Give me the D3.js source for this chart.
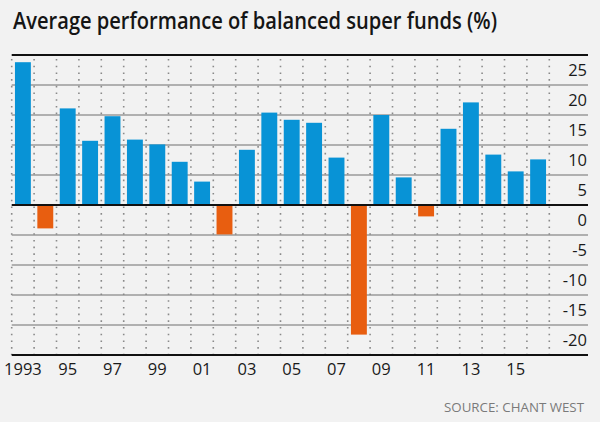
<!DOCTYPE html>
<html>
<head>
<meta charset="utf-8">
<script src="https://cdn.jsdelivr.net/npm/d3@7"></script>
<style>
  html, body { margin: 0; padding: 0; background: #f2f2f2; }
  svg { display: block; }
</style>
</head>
<body>
<svg id="chart" width="600" height="422"></svg>
<script>
const years = d3.range(1993, 2017);
const values = [23.8, -3.9, 16.1, 10.7, 14.8, 10.9, 10.1, 7.2, 3.9, -4.9, 9.2, 15.4,
                14.2, 13.7, 7.9, -21.6, 15.0, 4.6, -1.9, 12.7, 17.1, 8.4, 5.6, 7.6];
const yTicks = [25, 20, 15, 10, 5, 0, -5, -10, -15, -20];
const xTickYears = [1993, 1995, 1997, 1999, 2001, 2003, 2005, 2007, 2009, 2011, 2013, 2015];
const xTickLabels = ["1993", "95", "97", "99", "01", "03", "05", "07", "09", "11", "13", "15"];
const title = "Average performance of balanced super funds (%)";
const source = "SOURCE: CHANT WEST";

const data = years.map((yr, i) => ({ year: yr, value: values[i] }));

const svg = d3.select("#chart");
const plotLeft = 11.7, plotRight = 549.3, plotTop = 55, plotBottom = 355, lineRight = 588;

const x = d3.scaleBand().domain(years).range([plotLeft, plotRight]).paddingInner(0.29).paddingOuter(0.145);
const y = d3.scaleLinear().domain([-25, 25]).range([plotBottom, plotTop]);

svg.append("rect").attr("width", 600).attr("height", 422).attr("fill", "#f2f2f2");

// Title
svg.append("text")
  .attr("x", 13).attr("y", 29)
  .attr("font-family", "'Open Sans', sans-serif")
  .attr("font-weight", 600)
  .attr("font-size", 23.5)
  .attr("fill", "#151515")
  .attr("textLength", 484)
  .attr("lengthAdjust", "spacingAndGlyphs")
  .text(title);

// horizontal gridlines
svg.append("g").selectAll("line")
  .data(yTicks.filter(d => d !== 0 && d !== 25))
  .join("line")
  .attr("x1", plotLeft).attr("x2", lineRight)
  .attr("y1", d => y(d)).attr("y2", d => y(d))
  .attr("stroke", "#9a9a9a").attr("stroke-width", 1.5);

// vertical dotted lines at slot boundaries
const step = x.step();
svg.append("g").selectAll("line")
  .data(d3.range(years.length + 1))
  .join("line")
  .attr("x1", i => plotLeft + i * step).attr("x2", i => plotLeft + i * step)
  .attr("y1", plotTop + 4).attr("y2", plotBottom)
  .attr("stroke", "#8a8a8a").attr("stroke-width", 1.6)
  .attr("stroke-dasharray", "1.6,5.1");

// bars
svg.append("g").selectAll("rect")
  .data(data)
  .join("rect")
  .attr("x", d => x(d.year))
  .attr("width", x.bandwidth())
  .attr("y", d => y(Math.max(0, d.value)))
  .attr("height", d => Math.abs(y(d.value) - y(0)))
  .attr("fill", d => d.value >= 0 ? "#0893d6" : "#e85e10");

// top, zero and bottom lines
[plotTop, y(0), plotBottom].forEach(yy => {
  svg.append("line").attr("x1", plotLeft).attr("x2", lineRight).attr("y1", yy).attr("y2", yy)
    .attr("stroke", "#111").attr("stroke-width", 2);
});

// y tick labels (right side, below each gridline)
svg.append("g").selectAll("text")
  .data(yTicks)
  .join("text")
  .attr("x", 587)
  .attr("y", d => y(d) + 21)
  .attr("text-anchor", "end")
  .attr("font-family", "'Open Sans', sans-serif")
  .attr("font-size", 16.5)
  .attr("fill", "#1a1a1a")
  .text(d => d);

// x tick labels
svg.append("g").selectAll("text")
  .data(xTickYears)
  .join("text")
  .attr("x", d => x(d) + x.bandwidth() / 2)
  .attr("y", 375)
  .attr("text-anchor", "middle")
  .attr("font-family", "'Open Sans', sans-serif")
  .attr("font-size", 16.5)
  .attr("fill", "#1a1a1a")
  .text((d, i) => xTickLabels[i]);

// source
svg.append("text")
  .attr("x", 584).attr("y", 412)
  .attr("text-anchor", "end")
  .attr("font-family", "'Open Sans', sans-serif")
  .attr("font-size", 13.5)
  .attr("fill", "#7a7a7a")
  .attr("textLength", 140)
  .attr("lengthAdjust", "spacingAndGlyphs")
  .text(source);
</script>
</body>
</html>
